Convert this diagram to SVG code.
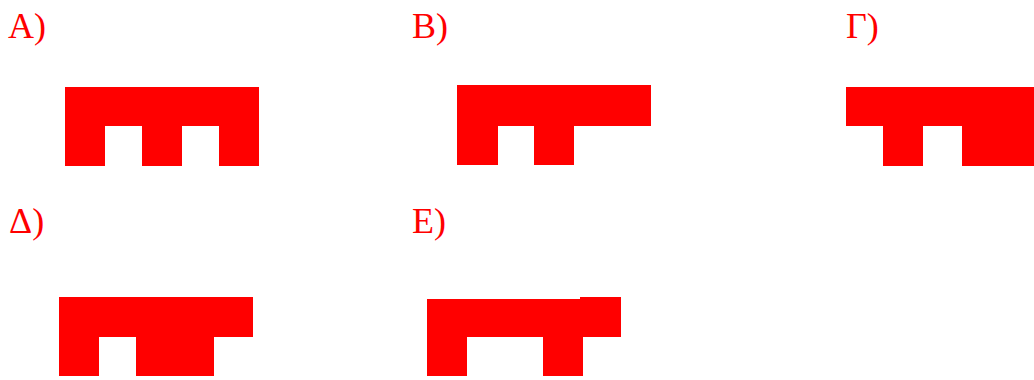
<svg xmlns="http://www.w3.org/2000/svg" width="1034" height="380" viewBox="0 0 1034 380">
<style>
.lbl{font-family:"Liberation Serif","DejaVu Serif",serif;font-size:36px;fill:#ff0000}
.shp{fill:#ff0000}
</style>
<rect width="1034" height="380" fill="#ffffff"/>
<g id="optA">
<text class="lbl" x="8" y="38">A)</text>
<polygon class="shp" points="65,87 259,87 259,166 219,166 219,126 182,126 182,166 142,166 142,126 105,126 105,166 65,166"/>
</g>
<g id="optB">
<text class="lbl" x="412" y="38">B)</text>
<polygon class="shp" points="457,85 651,85 651,126 574,126 574,165 534,165 534,126 498,126 498,165 457,165"/>
</g>
<g id="optG">
<text class="lbl" x="846" y="38">Γ)</text>
<polygon class="shp" points="846,87 1034,87 1034,166 962,166 962,126 923,126 923,166 883,166 883,126 846,126"/>
</g>
<g id="optD">
<text class="lbl" x="9" y="233">Δ)</text>
<polygon class="shp" points="59,297 253,297 253,337 214,337 214,376 136,376 136,337 99,337 99,376 59,376"/>
</g>
<g id="optE">
<text class="lbl" x="412" y="233">E)</text>
<polygon class="shp" points="427,299 580,299 580,297 621,297 621,337 583,337 583,376 543,376 543,337 467,337 467,376 427,376"/>
</g>
</svg>
